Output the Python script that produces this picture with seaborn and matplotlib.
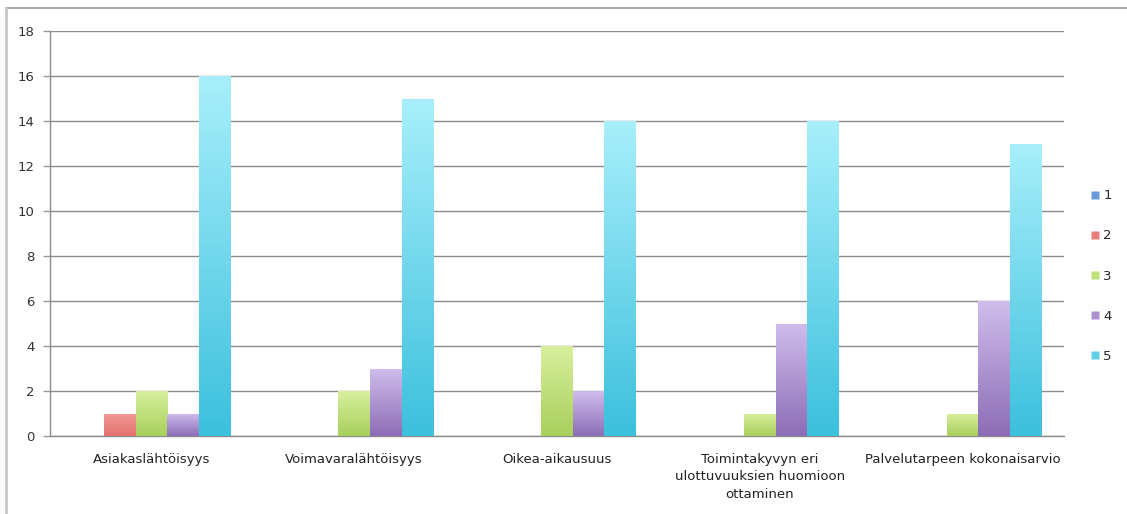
import numpy as np
import pandas as pd
import matplotlib
matplotlib.use("Agg")
import matplotlib.pyplot as plt
import seaborn as sns
from matplotlib.colors import LinearSegmentedColormap
from matplotlib.lines import Line2D

categories = ["Asiakaslähtöisyys", "Voimavaralähtöisyys", "Oikea-aikausuus",
              "Toimintakyvyn eri\nulottuvuuksien huomioon\nottaminen",
              "Palvelutarpeen kokonaisarvio"]
series = ["1", "2", "3", "4", "5"]
s1 = [0, 0, 0, 0, 0]
s2 = [1, 0, 0, 0, 0]
s3 = [2, 2, 4, 1, 1]
s4 = [1, 3, 2, 5, 6]
s5 = [16, 15, 14, 14, 13]
y_ticks = [0, 2, 4, 6, 8, 10, 12, 14, 16, 18]

base_colors = ["#6a9ad8", "#ea7f7a", "#bfe07a", "#ad92d2", "#5fd0e8"]
top_colors = ["#9dc3ee", "#f29a96", "#d8f09e", "#d0bdec", "#a8effb"]
bot_colors = ["#4a86d0", "#e2716c", "#a8cf5c", "#8c6db6", "#3cc0dd"]

rows = []
for s, vals in zip(series, [s1, s2, s3, s4, s5]):
    for c, v in zip(categories, vals):
        rows.append({"cat": c, "series": s, "value": v})
df = pd.DataFrame(rows)

sns.set_theme(style="white")
plt.rcParams['font.family'] = ['DejaVu Sans']

fig = plt.figure(figsize=(11.27, 5.14), dpi=100)
ax = fig.add_axes([50/1127, 1-436/514, (1064-50)/1127, (436-31)/514])

sns.barplot(data=df, x="cat", y="value", hue="series", hue_order=series,
            order=categories, palette=base_colors, width=0.78, ax=ax,
            legend=False, saturation=1, edgecolor="none", linewidth=0)

# gradient fill
grad = np.linspace(0, 1, 256).reshape(-1, 1)
for i, cont in enumerate(ax.containers):
    cmap = LinearSegmentedColormap.from_list("g%d" % i, [bot_colors[i], top_colors[i]])
    for p in cont.patches:
        h = p.get_height()
        if h <= 0:
            continue
        x0 = p.get_x(); w = p.get_width()
        im = ax.imshow(grad, cmap=cmap, aspect="auto", origin="lower",
                       extent=[x0, x0 + w, 0, h], zorder=3)
        im.set_clip_path(p)
        p.set_zorder(3)

ax.set_xlim(-0.5, 4.5)
ax.set_ylim(0, 18)
ax.set_yticks(y_ticks)
ax.set_yticklabels([str(t) for t in y_ticks], fontsize=9.5, color="#333333")
ax.set_xticks(range(len(categories)))
ax.set_xticklabels(categories, fontsize=9.5, color="#222222", linespacing=1.45)
ax.set_xticks(np.arange(-0.5, 5.0, 1.0), minor=True)
ax.tick_params(axis="x", which="major", length=0, pad=12)
ax.tick_params(axis="x", which="minor", length=4, width=1, color="#999999", direction="out")
ax.tick_params(axis="y", which="major", length=5, width=1, color="#999999", direction="out", pad=6, left=True)
ax.set_xlabel("")
ax.set_ylabel("")
ax.yaxis.grid(True, color="#8c8c8c", linewidth=1)
ax.set_axisbelow(True)
for side in ["top", "right"]:
    ax.spines[side].set_visible(False)
ax.spines["left"].set_color("#8c8c8c")
ax.spines["bottom"].set_color("#8c8c8c")
ax.spines["left"].set_linewidth(1)
ax.spines["bottom"].set_linewidth(1)

handles = [Line2D([0], [0], marker="s", linestyle="none", markersize=6,
                  markerfacecolor=c, markeredgecolor="none") for c in base_colors]
fig.legend(handles, series, loc="center left", bbox_to_anchor=(1077/1127, 1-276/514),
           frameon=False, fontsize=9.5, labelspacing=2.05, handletextpad=0.1,
           handlelength=1.0)

# outer frame: top and left edges only
fig.add_artist(Line2D([6/1127, 1.0], [1-8/514, 1-8/514], transform=fig.transFigure,
                      color="#a8a8a8", linewidth=1.5))
fig.add_artist(Line2D([6/1127, 6/1127], [0.0, 1-8/514], transform=fig.transFigure,
                      color="#c8c8c8", linewidth=2))

fig.savefig("out.png", dpi=100)
